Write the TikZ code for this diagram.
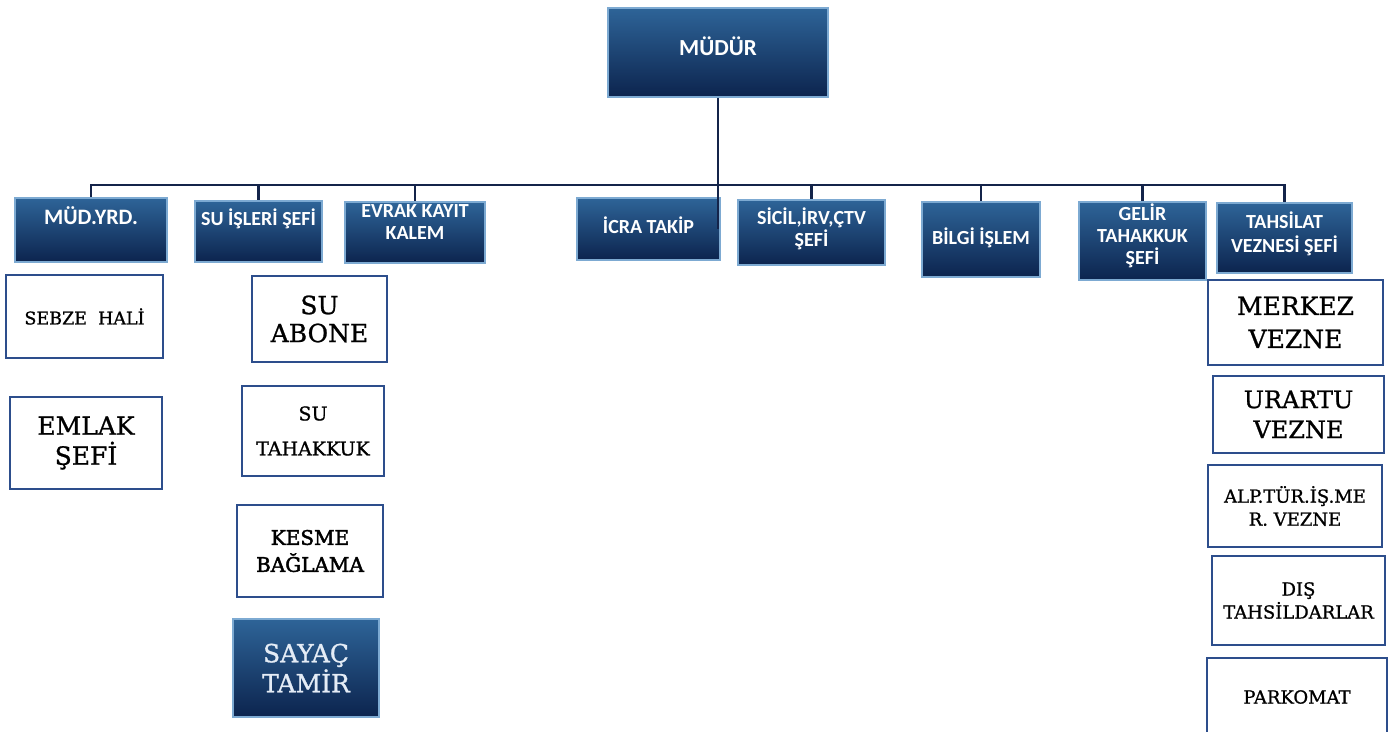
\documentclass[tikz,border=0pt]{standalone}
\usepackage{fontspec}
\setmainfont[FakeBold=1]{DejaVu Serif}
\newfontfamily\kesmefont[FakeBold=2.2]{DejaVu Serif}
\newfontfamily\headfont{Carlito}
\definecolor{boxtop}{RGB}{46,100,152}
\definecolor{boxbot}{RGB}{12,36,78}
\definecolor{boxedge}{RGB}{125,170,210}
\definecolor{unitedge}{RGB}{45,78,140}
\definecolor{linkcol}{RGB}{20,36,74}
\definecolor{paletext}{RGB}{228,236,246}
\begin{document}
\begin{tikzpicture}[x=1pt,y=-1pt,
  bluebox/.style={draw=boxedge,line width=1.6pt,top color=boxtop,bottom color=boxbot},
  head/.style 2 args={bluebox,text=white,align=center,inner sep=0pt,
    font=\headfont\bfseries\fontsize{#1}{#2}\selectfont},
  unit/.style 2 args={draw=unitedge,line width=1.4pt,fill=white,align=center,inner sep=0pt,
    font=\fontsize{#1}{#2}\selectfont},
  link/.style={draw=linkcol,line width=2.4pt}]
\clip (0,0) rectangle (1391,731);
% top
\node[head={23}{24},minimum width=220pt,minimum height=89pt,text depth=12pt] (mudur) at (718,52.5) {MÜDÜR};
% second row
\node[head={22}{22},minimum width=152pt,minimum height=64pt,text depth=28pt] (mudyrd) at (91,230) {MÜD.YRD.};
\node[head={20}{21},minimum width=127pt,minimum height=61pt,text depth=28pt] (suisleri) at (258.5,231.5) {SU İŞLERİ ŞEFİ};
\node[head={20}{22},minimum width=140pt,minimum height=61pt,text depth=20pt] (evrak) at (415,232.5) {EVRAK KAYIT\\KALEM};
\node[head={20}{21},minimum width=143pt,minimum height=62pt,text depth=8pt] (icra) at (648.5,229) {İCRA TAKİP};
\node[head={20}{22},minimum width=147pt,minimum height=65pt,text depth=11pt] (sicil) at (811.5,232.5) {SİCİL,İRV,ÇTV\\ŞEFİ};
\node[head={20}{21},minimum width=118pt,minimum height=75pt,text depth=6pt] (bilgi) at (981,239.5) {BİLGİ İŞLEM};
\node[head={20}{22},minimum width=127pt,minimum height=78pt,text depth=14pt] (gelir) at (1142.5,241) {GELİR\\TAHAKKUK\\ŞEFİ};
\node[head={20}{24},minimum width=135pt,minimum height=70pt,text depth=12pt] (tahsilat) at (1284.5,238) {TAHSİLAT\\VEZNESİ ŞEFİ};
% units under mud.yrd.
\node[unit={17.5}{20},minimum width=157pt,minimum height=83pt] (sebze) at (84.5,316.5) {SEBZE\ \ HALİ};
\node[unit={25}{30},minimum width=152pt,minimum height=92pt] (emlak) at (86,443) {EMLAK\\ŞEFİ};
% units under su isleri
\node[unit={25}{28},minimum width=135pt,minimum height=86pt] (suabone) at (319.5,319) {SU\\ABONE};
\node[unit={19}{35},minimum width=142pt,minimum height=90pt] (sutahakkuk) at (313,431) {SU\\TAHAKKUK};
\node[unit={20}{27},font=\kesmefont\fontsize{20}{27}\selectfont,minimum width=146pt,minimum height=92pt] (kesme) at (310,551) {KESME\\BAĞLAMA};
\node[bluebox,text=paletext,align=center,inner sep=0pt,font=\fontsize{25}{30}\selectfont,
  minimum width=146pt,minimum height=98pt] (sayac) at (306,668) {SAYAÇ\\TAMİR};
% units under tahsilat
\node[unit={25}{33},minimum width=175pt,minimum height=85pt] (merkez) at (1295.5,322.5) {MERKEZ\\VEZNE};
\node[unit={24}{30},minimum width=171pt,minimum height=77pt] (urartu) at (1298.5,414.5) {URARTU\\VEZNE};
\node[unit={18}{23},minimum width=174pt,minimum height=82pt] (alptur) at (1295,506) {ALP.TÜR.İŞ.ME\\R. VEZNE};
\node[unit={18}{23},minimum width=173pt,minimum height=89pt] (dis) at (1298.5,600.5) {DIŞ\\TAHSİLDARLAR};
\node[unit={18}{20},minimum width=180pt,minimum height=78pt] (parkomat) at (1297,697) {PARKOMAT};
% connectors
\coordinate (bus) at (718,185);
\draw[link] (mudur.south) -- (mudur.south |- icra.center);
\draw[link] (bus) -| (mudyrd.north);
\draw[link] (bus) -| (suisleri.north);
\draw[link] (bus) -| (evrak.north);
\draw[link] (bus) -| (sicil.north);
\draw[link] (bus) -| (bilgi.north);
\draw[link] (bus) -| (gelir.north);
\draw[link] (bus) -| (tahsilat.north);
\end{tikzpicture}
\end{document}
